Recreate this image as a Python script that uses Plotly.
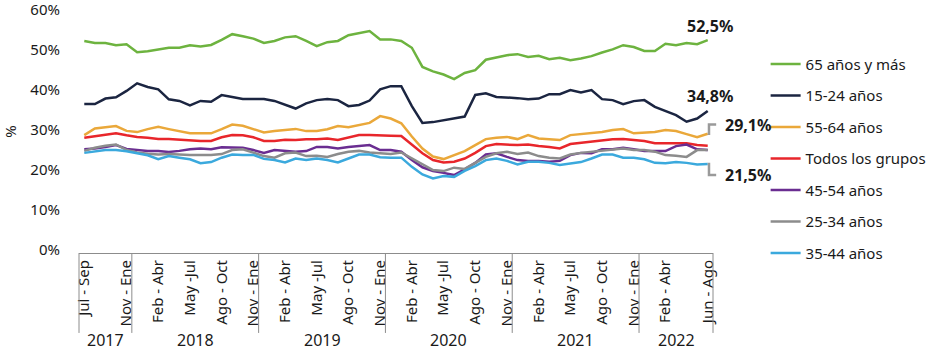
import plotly.graph_objects as go

periods = (
    ["Jul - Sep", "Ago - Oct", "Sep - Nov", "Oct - Dic", "Nov - Ene"]
    + ["Dic - Feb", "Ene - Mar", "Feb - Abr", "Mar - May", "Abr - Jun", "May -Jul",
       "Jun - Ago", "Jul - Sep", "Ago - Oct", "Sep - Nov", "Oct - Dic", "Nov - Ene"] * 4
    + ["Dic - Feb", "Ene - Mar", "Feb - Abr", "Mar - May", "Abr - Jun", "May -Jul", "Jun - Ago"]
)
years = ["2017", "2018", "2019", "2020", "2021", "2022"]
year_counts = [5, 12, 12, 12, 12, 7]
tick_positions = [0] + list(range(4, 56, 3)) + [59]

s65 = [52.3, 51.8, 51.8, 51.25, 51.5, 49.5, 49.75, 50.1, 50.6, 50.6, 51.2, 50.9, 51.3, 52.6, 54.0, 53.5, 52.9, 51.8, 52.3, 53.2,
       53.5, 52.3, 51.0, 52.0, 52.3, 53.75, 54.3, 54.8, 52.7, 52.7, 52.3, 50.6, 45.8, 44.7, 43.9, 42.75, 44.3, 45.0, 47.6, 48.2,
       48.75, 49.0, 48.3, 48.6, 47.75, 48.1, 47.5, 47.9, 48.5, 49.4, 50.2, 51.25, 50.8, 49.8, 49.8, 51.6, 51.25, 51.8, 51.5, 52.5]
s1524 = [36.5, 36.5, 37.9, 38.2, 39.8, 41.7, 40.8, 40.2, 37.7, 37.3, 36.2, 37.3, 37.1, 38.75, 38.3, 37.8, 37.8, 37.8, 37.3, 36.25,
         35.4, 36.7, 37.5, 37.75, 37.5, 36.0, 36.3, 37.4, 40.2, 41.0, 41.0, 36.0, 31.8, 32.0, 32.5, 32.9, 33.4, 38.8, 39.2, 38.3,
         38.2, 38.0, 37.75, 37.9, 39.0, 39.0, 40.0, 39.4, 40.0, 37.75, 37.5, 36.5, 37.25, 37.5, 35.8, 34.8, 33.75, 32.1, 32.9, 34.8]
s5564 = [28.75, 30.4, 30.7, 31.0, 29.8, 29.5, 30.25, 30.8, 30.25, 29.75, 29.2, 29.2, 29.2, 30.25, 31.4, 31.1, 30.25, 29.4, 29.75, 30.0,
         30.3, 29.75, 29.8, 30.2, 31.0, 30.7, 31.25, 31.8, 33.5, 32.9, 31.7, 28.4, 25.4, 23.4, 22.75, 23.7, 24.75, 26.25, 27.75, 28.1,
         28.3, 27.75, 28.75, 27.9, 27.75, 27.5, 28.75, 29.0, 29.2, 29.5, 30.0, 30.25, 29.2, 29.4, 29.5, 30.0, 29.75, 29.0, 28.2, 29.1]
s_all = [28.1, 28.5, 28.8, 29.2, 28.7, 28.3, 28.1, 27.8, 27.75, 27.6, 27.3, 27.3, 27.3, 28.2, 28.75, 28.7, 28.2, 27.3, 27.3, 27.6,
         27.5, 27.7, 27.7, 27.9, 27.5, 28.2, 28.75, 28.75, 28.75, 28.6, 28.5, 26.25, 24.2, 22.5, 21.9, 22.1, 22.9, 24.3, 26.0, 26.5,
         26.4, 26.25, 26.4, 26.0, 25.8, 25.4, 26.5, 26.8, 27.1, 27.3, 27.7, 27.75, 27.5, 27.25, 26.7, 26.7, 26.7, 26.7, 26.25, 26.1]
s4554 = [25.2, 25.4, 25.8, 26.25, 25.3, 25.0, 24.75, 24.75, 24.5, 24.8, 25.2, 25.4, 25.2, 25.7, 25.7, 25.6, 25.0, 24.3, 25.0, 24.75,
         24.6, 24.75, 25.8, 25.8, 25.4, 25.8, 26.1, 26.25, 25.0, 25.0, 24.6, 22.5, 20.7, 19.75, 19.3, 18.75, 20.2, 21.8, 23.9, 24.2,
         23.3, 22.5, 22.25, 22.3, 22.1, 22.3, 23.75, 24.3, 24.2, 25.2, 25.2, 25.6, 25.2, 24.8, 24.75, 24.75, 26.0, 26.4, 25.2, 25.0]
s2534 = [24.8, 25.6, 26.1, 26.4, 25.0, 24.4, 24.1, 23.9, 24.0, 23.8, 23.75, 23.75, 23.75, 24.0, 25.0, 25.2, 24.3, 23.5, 23.1, 24.2,
         24.4, 23.5, 23.6, 23.3, 24.0, 24.6, 24.8, 24.4, 24.2, 24.0, 24.4, 22.9, 21.4, 20.0, 19.75, 20.6, 20.3, 21.7, 23.3, 24.2,
         24.6, 24.0, 24.4, 23.5, 23.1, 22.9, 23.9, 24.3, 24.6, 24.8, 25.2, 25.4, 25.0, 25.0, 24.6, 23.75, 23.6, 23.3, 25.0, 25.0]
s3544 = [24.3, 24.6, 25.0, 25.0, 24.7, 24.2, 23.7, 22.75, 23.5, 23.1, 22.7, 21.7, 22.0, 23.1, 23.9, 23.75, 23.8, 22.8, 22.5, 21.9,
         22.9, 22.5, 22.9, 22.5, 21.9, 22.9, 23.9, 23.9, 23.2, 23.1, 23.1, 20.8, 18.9, 17.9, 18.5, 18.3, 19.8, 21.0, 22.5, 22.9,
         22.3, 21.4, 22.1, 22.1, 21.8, 21.25, 21.7, 22.0, 22.9, 23.9, 23.9, 23.1, 23.1, 22.7, 21.8, 21.7, 22.0, 21.8, 21.4, 21.5]

series_names = ["65 años y más", "15-24 años", "55-64 años", "Todos los grupos", "45-54 años", "25-34 años", "35-44 años"]
series_values = [s65, s1524, s5564, s_all, s4554, s2534, s3544]
series_colors = ["#6db33f", "#1b2541", "#eaa83a", "#e8262b", "#6a2d91", "#8c8c8c", "#3ba9dd"]

FONT = "Noto Sans"
TXT = "#1a1a1a"
x = list(range(len(periods)))
XMIN, XMAX = -0.5, len(periods) - 0.5
YMIN, YMAX = -0.75, 60.05

def xd(v):
    return (v - XMIN) / (XMAX - XMIN)

def yd(v):
    return (v - YMIN) / (YMAX - YMIN)

fig = go.Figure()
for name, vals, col in zip(series_names, series_values, series_colors):
    fig.add_trace(go.Scatter(x=x, y=vals, mode="lines", name=name, legendgroup=name,
                             line=dict(color=col, width=2.5), hoverinfo="skip"))

tick_txt = [periods[i] for i in tick_positions]

shapes = []
annotations = []
bounds = [0]
for c in year_counts:
    bounds.append(bounds[-1] + c)
for k, yr in enumerate(years):
    a, b = bounds[k], bounds[k + 1]
    annotations.append(dict(x=(a + b - 1) / 2, y=-0.358, xref="x", yref="paper", text=yr, showarrow=False,
                            font=dict(family=FONT, size=16, color=TXT), yanchor="middle"))
for bnd in bounds:
    shapes.append(dict(type="line", xref="x domain", yref="paper", x0=xd(bnd - 0.5), x1=xd(bnd - 0.5),
                       y0=0, y1=-0.329, line=dict(color="#8c8c8c", width=1)))

last = len(periods) - 1
annotations.append(dict(x=last, y=s65[-1], xref="x", yref="y", text="<b>52,5%</b>", showarrow=False,
                        xshift=2, yshift=14, font=dict(family=FONT, size=16, color=TXT)))
annotations.append(dict(x=last, y=s1524[-1], xref="x", yref="y", text="<b>34,8%</b>", showarrow=False,
                        xshift=2, yshift=15, font=dict(family=FONT, size=16, color=TXT)))
lab_hi = 31.4
lab_lo = 18.75
annotations.append(dict(x=last, y=lab_hi, xref="x", yref="y", text="<b>29,1%</b>", showarrow=False,
                        xanchor="left", xshift=15, font=dict(family=FONT, size=16, color=TXT)))
annotations.append(dict(x=last, y=lab_lo, xref="x", yref="y", text="<b>21,5%</b>", showarrow=False,
                        xanchor="left", xshift=15, font=dict(family=FONT, size=16, color=TXT)))
for v, lab in [(s5564[-1], lab_hi), (s3544[-1], lab_lo)]:
    x0 = xd(last)
    x1 = xd(last + 0.12)
    x2 = xd(last + 0.8)
    path = f"M {x0},{yd(v)} L {x1},{yd(v)} L {x1},{yd(lab)} L {x2},{yd(lab)}"
    shapes.append(dict(type="path", xref="x domain", yref="y domain", path=path,
                       line=dict(color="#9a9a9a", width=2.5)))

fig.update_layout(
    width=934, height=350,
    margin=dict(l=79, r=221, t=10, b=97, autoexpand=False),
    paper_bgcolor="white", plot_bgcolor="white",
    font=dict(family=FONT, size=14, color=TXT),
    showlegend=True,
    legend=dict(x=1.083, xanchor="left", y=0.845, yanchor="top", tracegroupgap=9,
                font=dict(family=FONT, size=15, color=TXT), bgcolor="rgba(0,0,0,0)"),
    xaxis=dict(range=[XMIN, XMAX], tickmode="array", tickvals=tick_positions, ticktext=tick_txt, tickangle=-90,
               showgrid=False, zeroline=False, showline=True, linecolor="#8c8c8c", linewidth=1, ticks="",
               tickfont=dict(family=FONT, size=15, color=TXT), fixedrange=True),
    yaxis=dict(range=[YMIN, YMAX], tickmode="array", tickvals=[0, 10, 20, 30, 40, 50, 60],
               ticktext=["0%", "10%", "20%", "30%", "40%", "50%", "60%"],
               showgrid=False, zeroline=False, showline=False, ticks="", ticklabelstandoff=18,
               ticklabeloverflow="allow",
               tickfont=dict(family=FONT, size=15, color=TXT),
               title=dict(text="%", standoff=12, font=dict(family=FONT, size=15, color=TXT)), fixedrange=True),
    shapes=shapes, annotations=annotations,
)
fig.write_html("out.html")
